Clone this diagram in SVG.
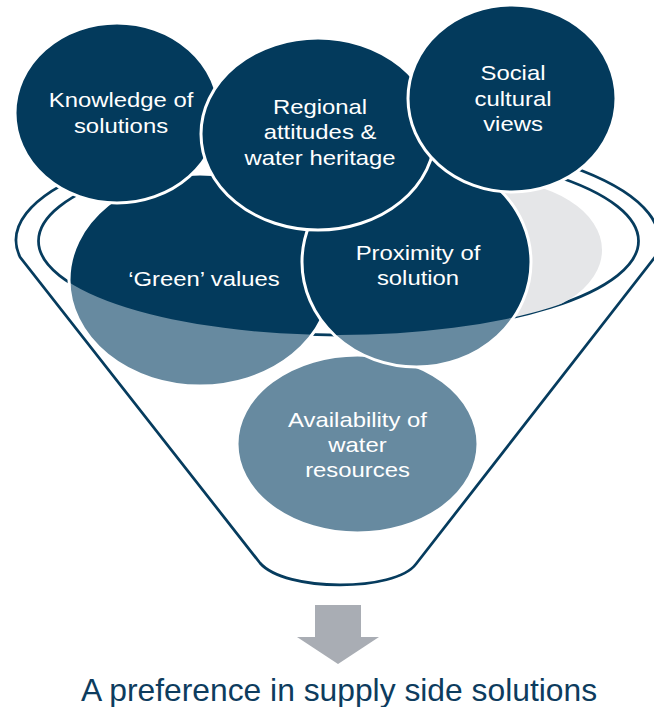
<svg xmlns="http://www.w3.org/2000/svg" width="654" height="707" viewBox="0 0 654 707">
<style>
.ln{fill:none;stroke:#063C5E;stroke-width:2.75}
.lt{fill:#678AA0}
.dk{fill:#033A5C}
.ol{fill:none;stroke:#FFFFFF;stroke-width:3}
.tx{fill:#FFFFFF;font-family:"Liberation Sans",Arial,sans-serif;font-size:20.4px;text-anchor:middle}
.bt{fill:#0D3C5E;font-family:"Liberation Sans",Arial,sans-serif;font-size:31.8px;text-anchor:middle}
</style>
<defs>
<clipPath id="rim">
<rect x="0" y="0" width="654" height="241"/>
<ellipse cx="338.5" cy="241" rx="300" ry="94"/>
</clipPath>
</defs>
<rect width="654" height="707" fill="#FFFFFF"/>
<g id="funnel">
<path class="ln" d="M20,257 A321.5,107 0 1 1 655,257 L416,564 C395,592 285,592 260,563 Z"/>
<ellipse class="ln" cx="338.5" cy="241" rx="300" ry="94"/>
<ellipse cx="490" cy="250" rx="112" ry="70" fill="#E5E6E8" clip-path="url(#rim)"/>
</g>
<g id="node-availability">
<ellipse class="lt" cx="357.5" cy="444" rx="120.5" ry="89"/>
<ellipse class="ol" cx="357.5" cy="444" rx="120.5" ry="89"/>
<text class="tx" transform="translate(357.5,426.7) scale(1.17,1)">Availability of</text>
<text class="tx" transform="translate(357.5,451.7) scale(1.17,1)">water</text>
<text class="tx" transform="translate(357.5,476.7) scale(1.17,1)">resources</text>
</g>
<g id="node-green">
<ellipse class="lt" cx="200" cy="280" rx="131" ry="106"/>
<ellipse class="dk" cx="200" cy="280" rx="131" ry="106" clip-path="url(#rim)"/>
<ellipse class="ol" cx="200" cy="280" rx="131" ry="106"/>
<text class="tx" transform="translate(204,286) scale(1.17,1)">‘Green’ values</text>
</g>
<g id="node-proximity">
<ellipse class="lt" cx="416.5" cy="262" rx="114.5" ry="105"/>
<ellipse class="dk" cx="416.5" cy="262" rx="114.5" ry="105" clip-path="url(#rim)"/>
<ellipse class="ol" cx="416.5" cy="262" rx="114.5" ry="105"/>
<text class="tx" transform="translate(418,260) scale(1.17,1)">Proximity of</text>
<text class="tx" transform="translate(418,285) scale(1.17,1)">solution</text>
</g>
<g id="node-knowledge">
<ellipse class="dk" cx="117" cy="113" rx="102" ry="90"/>
<ellipse class="ol" cx="117" cy="113" rx="102" ry="90"/>
<text class="tx" transform="translate(121,107.3) scale(1.17,1)">Knowledge of</text>
<text class="tx" transform="translate(121,132.7) scale(1.17,1)">solutions</text>
</g>
<g id="node-regional">
<ellipse class="dk" cx="318" cy="134" rx="117" ry="96"/>
<ellipse class="ol" cx="318" cy="134" rx="117" ry="96"/>
<text class="tx" transform="translate(320,113.5) scale(1.17,1)">Regional</text>
<text class="tx" transform="translate(320,139) scale(1.17,1)">attitudes &amp;</text>
<text class="tx" transform="translate(320,164.5) scale(1.17,1)">water heritage</text>
</g>
<g id="node-social">
<ellipse class="dk" cx="512" cy="98.5" rx="104" ry="93.5"/>
<ellipse class="ol" cx="512" cy="98.5" rx="104" ry="93.5"/>
<text class="tx" transform="translate(513,80) scale(1.17,1)">Social</text>
<text class="tx" transform="translate(513,105.5) scale(1.17,1)">cultural</text>
<text class="tx" transform="translate(513,131) scale(1.17,1)">views</text>
</g>
<g id="connectors">
<polygon points="315,605 361,605 361,637 379,637 338,664 297,637 315,637" fill="#A9ADB4"/>
</g>
<g id="result">
<text class="bt" x="339" y="700.7">A preference in supply side solutions</text>
</g>
</svg>
